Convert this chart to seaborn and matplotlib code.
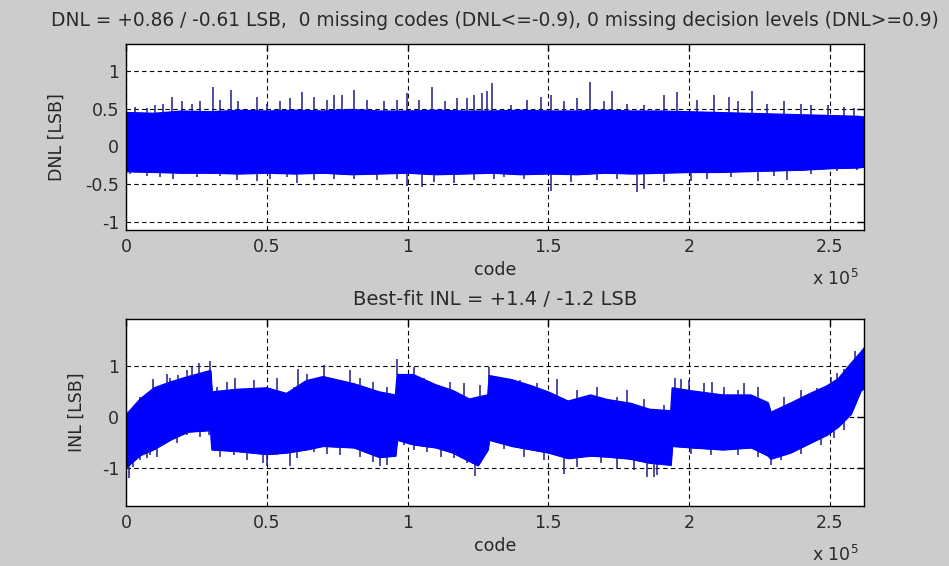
import matplotlib
matplotlib.use('Agg')
import numpy as np
import matplotlib.pyplot as plt
import seaborn as sns

# --- DNL envelope (code in units of 1e5, value in LSB) ---
dnl_x = [0, 0.1, 0.2, 0.3, 0.4, 0.5, 0.6, 0.7, 0.8, 0.9, 1.0, 1.1, 1.2, 1.3,
         1.4, 1.5, 1.6, 1.7, 1.8, 1.9, 2.0, 2.1, 2.2, 2.3, 2.4, 2.5, 2.6, 2.6214]
dnl_upper = [0.45, 0.44, 0.47, 0.46, 0.48, 0.47, 0.48, 0.47, 0.49, 0.47, 0.47, 0.48, 0.47, 0.47,
             0.48, 0.47, 0.47, 0.48, 0.47, 0.47, 0.46, 0.45, 0.44, 0.43, 0.42, 0.41, 0.40, 0.39]
dnl_lower = [-0.33, -0.34, -0.35, -0.35, -0.36, -0.35, -0.36, -0.35, -0.37, -0.36, -0.35, -0.37, -0.36, -0.35,
             -0.37, -0.36, -0.37, -0.35, -0.36, -0.35, -0.34, -0.34, -0.33, -0.32, -0.31, -0.29, -0.28, -0.27]
dnl_spike_up_x = [0.032, 0.074, 0.103, 0.133, 0.163, 0.198, 0.234, 0.263, 0.308, 0.334, 0.373, 0.399,
                  0.465, 0.500, 0.548, 0.583, 0.625, 0.666, 0.714, 0.737, 0.767, 0.808, 0.856, 0.915,
                  0.963, 0.998, 1.04, 1.087, 1.134, 1.176, 1.211, 1.235, 1.265, 1.283, 1.30, 1.366,
                  1.425, 1.473, 1.508, 1.555, 1.603, 1.648, 1.697, 1.727, 1.780, 1.839, 1.910, 1.958,
                  2.029, 2.088, 2.142, 2.172, 2.225, 2.278, 2.337, 2.397, 2.432, 2.492, 2.551, 2.587]
dnl_spike_up_y = [0.53, 0.51, 0.55, 0.57, 0.66, 0.60, 0.57, 0.60, 0.79, 0.62, 0.75, 0.60,
                  0.66, 0.57, 0.60, 0.64, 0.72, 0.66, 0.62, 0.68, 0.68, 0.75, 0.62, 0.60,
                  0.62, 0.71, 0.62, 0.79, 0.60, 0.64, 0.64, 0.68, 0.71, 0.73, 0.84, 0.55,
                  0.62, 0.66, 0.68, 0.60, 0.64, 0.86, 0.60, 0.74, 0.57, 0.55, 0.68, 0.72,
                  0.62, 0.68, 0.66, 0.60, 0.74, 0.57, 0.60, 0.57, 0.55, 0.55, 0.53, 0.51]
dnl_spike_dn_x = [0.014, 0.074, 0.121, 0.168, 0.251, 0.334, 0.394, 0.465, 0.512, 0.571, 0.607, 0.666,
                  0.737, 0.808, 0.891, 0.963, 0.998, 1.051, 1.093, 1.164, 1.235, 1.306, 1.342, 1.413,
                  1.508, 1.579, 1.674, 1.745, 1.816, 1.840, 1.910, 2.006, 2.065, 2.148, 2.243, 2.302,
                  2.349, 2.432, 2.527, 2.598]
dnl_spike_dn_y = [-0.37, -0.39, -0.41, -0.43, -0.41, -0.39, -0.45, -0.46, -0.43, -0.41, -0.48, -0.45,
                  -0.43, -0.43, -0.45, -0.43, -0.52, -0.54, -0.47, -0.48, -0.45, -0.43, -0.41, -0.43,
                  -0.59, -0.47, -0.45, -0.43, -0.61, -0.57, -0.47, -0.46, -0.43, -0.41, -0.46, -0.39,
                  -0.44, -0.37, -0.33, -0.31]

# --- INL envelope ---
inl_x = [0.0, 0.05, 0.10, 0.16, 0.22, 0.30, 0.305, 0.39, 0.50, 0.57, 0.64, 0.70, 0.81, 0.90,
         0.957, 0.963, 1.02, 1.10, 1.16, 1.22, 1.25, 1.285, 1.29, 1.37, 1.44, 1.50, 1.57, 1.65,
         1.71, 1.79, 1.86, 1.935, 1.94, 2.01, 2.12, 2.22, 2.28, 2.29, 2.36, 2.43, 2.49, 2.53,
         2.575, 2.61, 2.6214]
inl_upper = [0.05, 0.36, 0.58, 0.70, 0.80, 0.92, 0.50, 0.55, 0.58, 0.47, 0.72, 0.80, 0.66, 0.50,
             0.44, 0.84, 0.84, 0.64, 0.53, 0.36, 0.40, 0.44, 0.82, 0.74, 0.62, 0.50, 0.32, 0.44,
             0.35, 0.28, 0.16, 0.13, 0.58, 0.52, 0.44, 0.44, 0.29, 0.10, 0.28, 0.47, 0.62, 0.76,
             1.06, 1.28, 1.36]
inl_lower = [-0.98, -0.74, -0.62, -0.43, -0.28, -0.25, -0.63, -0.66, -0.72, -0.69, -0.63, -0.56, -0.59, -0.78,
             -0.75, -0.44, -0.53, -0.59, -0.69, -0.86, -0.94, -0.63, -0.44, -0.56, -0.63, -0.69, -0.80, -0.75,
             -0.77, -0.81, -0.89, -0.93, -0.56, -0.59, -0.63, -0.59, -0.75, -0.81, -0.69, -0.50, -0.34, -0.18,
             0.07, 0.53, 0.57]
inl_spike_up_x = [0.050, 0.097, 0.145, 0.156, 0.186, 0.216, 0.234, 0.26, 0.30, 0.323, 0.358, 0.388,
                  0.453, 0.536, 0.595, 0.61, 0.643, 0.702, 0.737, 0.797, 0.832, 0.879, 0.927, 0.963,
                  1.022, 1.057, 1.152, 1.200, 1.259, 1.289, 1.330, 1.401, 1.460, 1.531, 1.603, 1.674,
                  1.745, 1.780, 1.839, 1.910, 1.95, 1.970, 2.00, 2.053, 2.083, 2.124, 2.172, 2.195,
                  2.243, 2.337, 2.397, 2.456, 2.503, 2.527, 2.551, 2.59]
inl_spike_up_y = [0.40, 0.75, 0.86, 0.77, 0.83, 0.93, 0.99, 1.07, 1.10, 0.60, 0.70, 0.77,
                  0.73, 0.77, 0.60, 0.95, 0.86, 1.03, 0.73, 0.93, 0.77, 0.70, 0.60, 1.14,
                  0.99, 0.77, 0.70, 0.67, 0.63, 0.99, 0.80, 0.73, 0.67, 0.76, 0.54, 0.60,
                  0.40, 0.54, 0.37, 0.24, 0.78, 0.76, 0.73, 0.67, 0.70, 0.60, 0.54, 0.67,
                  0.60, 0.40, 0.54, 0.57, 0.80, 0.88, 0.95, 1.30]
inl_spike_dn_x = [0.01, 0.026, 0.050, 0.073, 0.085, 0.109, 0.133, 0.180, 0.216, 0.263, 0.293, 0.334,
                  0.382, 0.429, 0.488, 0.500, 0.536, 0.583, 0.607, 0.666, 0.714, 0.761, 0.832, 0.879,
                  0.903, 0.927, 0.986, 1.022, 1.069, 1.117, 1.164, 1.212, 1.241, 1.342, 1.413, 1.484,
                  1.555, 1.603, 1.686, 1.745, 1.804, 1.851, 1.875, 1.887, 2.006, 2.077, 2.172, 2.243,
                  2.29, 2.326, 2.397, 2.468, 2.516, 2.551]
inl_spike_dn_y = [-1.18, -0.97, -0.84, -0.80, -0.74, -0.78, -0.54, -0.51, -0.35, -0.38, -0.35, -0.77,
                  -0.74, -0.84, -0.90, -0.96, -0.74, -0.96, -0.80, -0.67, -0.71, -0.74, -0.77, -0.87,
                  -0.96, -0.94, -0.54, -0.64, -0.67, -0.77, -0.80, -0.90, -1.15, -0.61, -0.77, -0.84,
                  -1.10, -0.97, -0.90, -1.00, -1.03, -1.16, -1.16, -1.13, -0.71, -0.74, -0.74, -0.77,
                  -0.93, -0.84, -0.71, -0.54, -0.41, -0.25]

xtick_vals = [0, 0.5, 1, 1.5, 2, 2.5]
xtick_labels = ['0', '0.5', '1', '1.5', '2', '2.5']

title_top = "DNL = +0.86 / -0.61 LSB,  0 missing codes (DNL<=-0.9), 0 missing decision levels (DNL>=0.9)"
title_bot = "Best-fit INL = +1.4 / -1.2 LSB"

sns.set_theme(style='white', rc={'axes.edgecolor': 'black', 'axes.linewidth': 1.0})
plt.rcParams['font.family'] = ['DejaVu Sans']
plt.rcParams['font.size'] = 12.5
plt.rcParams['text.color'] = '#2a2a2a'

BLUE = '#0000ff'
EDGE = '#1c1c8a'
SCALE = 1e5
NCODES = 262144
FS = 12.5

fig = plt.figure(figsize=(9.49, 5.66), dpi=100, facecolor='#cccccc')
ax1 = fig.add_axes([0.1328, 0.5936, 0.7777, 0.3286])
ax2 = fig.add_axes([0.1328, 0.1065, 0.7777, 0.3299])


def draw_band(ax, x, up, lo, sux, suy, sdx, sdy):
    x = np.array(x) * SCALE
    ax.fill_between(x, lo, up, color=BLUE, lw=0.8, edgecolor=BLUE, zorder=2)
    sns.lineplot(x=x, y=up, ax=ax, color=BLUE, lw=1.0, estimator=None, sort=False, zorder=3)
    sns.lineplot(x=x, y=lo, ax=ax, color=BLUE, lw=1.0, estimator=None, sort=False, zorder=3)
    # spikes that stick out of the solid band
    sux, suy = np.array(sux) * SCALE, np.array(suy)
    sdx, sdy = np.array(sdx) * SCALE, np.array(sdy)
    bu = np.interp(sux, x, up)
    bl = np.interp(sdx, x, lo)
    mu = suy > bu
    ml = sdy < bl
    ax.vlines(sux[mu], bu[mu], suy[mu], color=EDGE, lw=1.1, zorder=3)
    ax.vlines(sdx[ml], sdy[ml], bl[ml], color=EDGE, lw=1.1, zorder=3)


draw_band(ax1, dnl_x, dnl_upper, dnl_lower,
          dnl_spike_up_x, dnl_spike_up_y, dnl_spike_dn_x, dnl_spike_dn_y)
draw_band(ax2, inl_x, inl_upper, inl_lower,
          inl_spike_up_x, inl_spike_up_y, inl_spike_dn_x, inl_spike_dn_y)

ax1.set_ylim(-1.11, 1.36)
ax1.set_yticks([-1, -0.5, 0, 0.5, 1])
ax1.set_yticklabels(['-1', '-0.5', '0', '0.5', '1'])
ax2.set_ylim(-1.73, 1.93)
ax2.set_yticks([-1, 0, 1])
ax2.set_yticklabels(['-1', '0', '1'])

for ax, ylab, title, lx, tpad, tfs in [(ax1, 'DNL [LSB]', title_top, -0.082, 13, 13.4),
                                       (ax2, 'INL [LSB]', title_bot, -0.055, 10, 14)]:
    ax.set_facecolor('white')
    ax.set_xlim(0, NCODES)
    ax.set_xticks([v * SCALE for v in xtick_vals])
    ax.set_xticklabels(xtick_labels)
    ax.grid(True, color='black', lw=0.8, linestyle=(0, (4, 3)), zorder=1)
    ax.set_axisbelow(True)
    ax.tick_params(direction='in', length=5, width=1, top=True, right=True,
                   colors='black', labelcolor='#2a2a2a', labelsize=FS)
    ax.tick_params(axis='x', pad=6)
    ax.tick_params(axis='y', pad=5)
    ax.set_xlabel('code', fontsize=FS)
    ax.xaxis.set_label_coords(0.5, -0.165)
    ax.set_ylabel(ylab, fontsize=FS)
    ax.yaxis.set_label_coords(lx, 0.5)
    ax.set_title(title, fontsize=tfs, pad=tpad)
    ax.text(0.992, -0.265, r'x 10$^5$', transform=ax.transAxes, ha='right',
            va='center', fontsize=FS)
    for s in ax.spines.values():
        s.set_visible(True)
        s.set_color('black')
        s.set_zorder(4)

fig.savefig('out.png', dpi=100, facecolor=fig.get_facecolor())
